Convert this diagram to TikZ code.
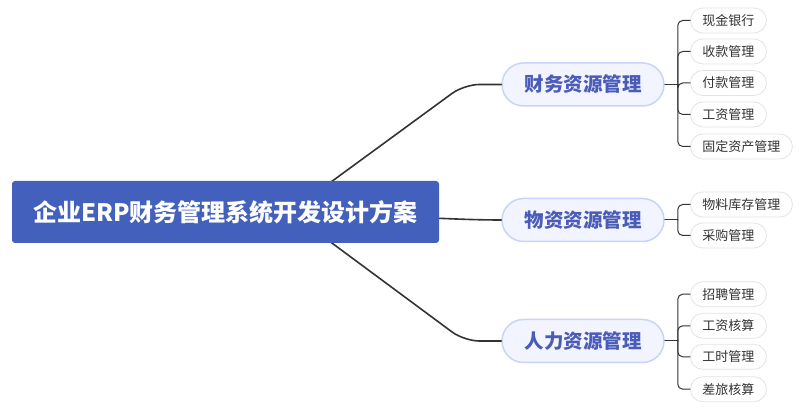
\documentclass[tikz,border=0pt]{standalone}
\usepackage{fontspec}
\setmainfont{Noto Sans CJK SC}
\usepackage{tikz}
\definecolor{rootblue}{HTML}{4360BC}
\definecolor{finfill}{HTML}{F2F4FF}
\definecolor{finedge}{HTML}{C9D3FB}
\definecolor{fintext}{HTML}{4A5BB8}
\definecolor{leafedge}{HTML}{E3E3E3}
\definecolor{linegray}{HTML}{333333}

\begin{document}
\begin{tikzpicture}[x=1pt,y=1pt,line cap=round,line join=round,
  rootbox/.style={rectangle,rounded corners=3pt,fill=rootblue,text=white,
    minimum width=427pt,minimum height=62pt,font=\fontsize{24}{28}\selectfont\bfseries},
  subject/.style={rectangle,rounded corners=21.5pt,fill=finfill,draw=finedge,line width=1.5pt,
    text=fintext,minimum width=162pt,minimum height=43pt,font=\fontsize{19.5}{23}\selectfont\bfseries},
  leaf/.style={rectangle,rounded corners=12.5pt,fill=white,draw=leafedge,line width=0.8pt,
    text=linegray,anchor=west,inner xsep=12pt,minimum height=25pt,font=\fontsize{13}{15}\selectfont},
  mainline/.style={draw=linegray,line width=1.6pt,rounded corners=15pt},
  leafline/.style={draw=linegray,line width=1pt,rounded corners=5pt}]
\useasboundingbox (0,0) rectangle (799,411);
\coordinate (src) at (290,199);
\node[subject] (fin) at (583,326.5) {财务资源管理};
\node[subject] (mat) at (583,191) {物资资源管理};
\node[subject] (hr) at (583,70) {人力资源管理};
\draw[mainline] (src) -- ([xshift=-37pt]fin.west) -- (fin.west);
\draw[mainline] (src) -- ([xshift=-37pt]hr.west) -- (hr.west);
\draw[mainline] (src) .. controls (420,194) and (460,191) .. (mat.west);
\node[rootbox] (root) at (225.5,199) {企业ERP财务管理系统开发设计方案};
\node[leaf] (f1) at (690,390.5) {现金银行};
\node[leaf] (f2) at (690,359.5) {收款管理};
\node[leaf] (f3) at (690,328) {付款管理};
\node[leaf] (f4) at (690,296.5) {工资管理};
\node[leaf] (f5) at (690,264.5) {固定资产管理};
\node[leaf] (m1) at (690,206.5) {物料库存管理};
\node[leaf] (m2) at (690,175.5) {采购管理};
\node[leaf] (h1) at (690,116.8) {招聘管理};
\node[leaf] (h2) at (690,85.2) {工资核算};
\node[leaf] (h3) at (690,54.2) {工时管理};
\node[leaf] (h4) at (690,21.8) {差旅核算};
\draw[leafline] (fin.east) -- ++(13,0) coordinate (finj);
\draw[leafline] (mat.east) -- ++(13,0) coordinate (matj);
\draw[leafline] (hr.east) -- ++(13,0) coordinate (hrj);
\foreach \l in {f1,f2,f3,f4,f5}
  \draw[leafline] (finj) |- (\l.west);
\foreach \l in {m1,m2}
  \draw[leafline] (matj) |- (\l.west);
\foreach \l in {h1,h2,h3,h4}
  \draw[leafline] (hrj) |- (\l.west);
\end{tikzpicture}
\end{document}
